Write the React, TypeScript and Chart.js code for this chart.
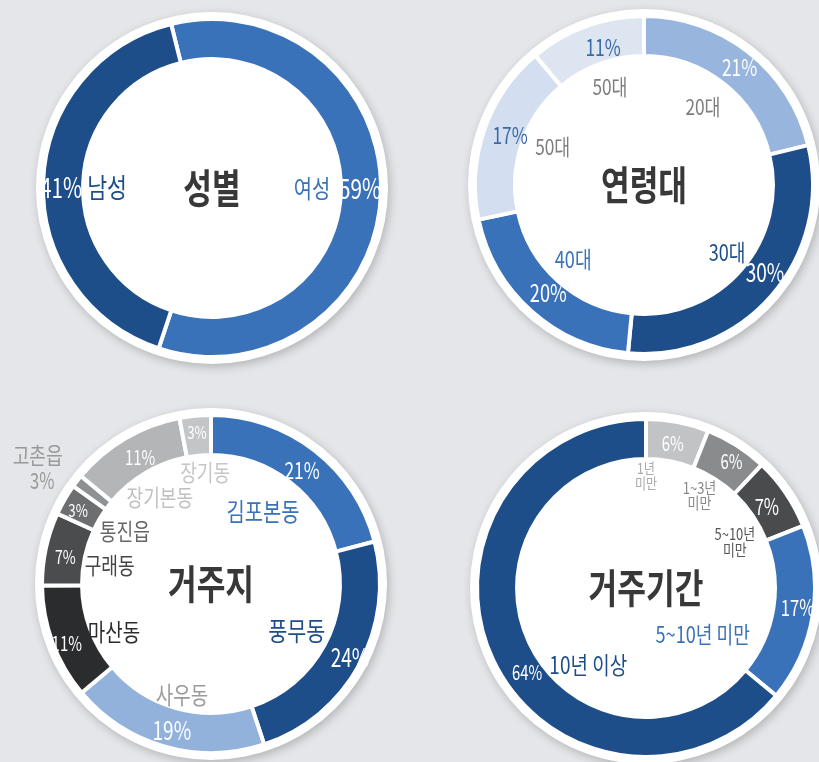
import React, { useEffect, useRef } from 'react';
import { Chart, registerables } from 'chart.js';

Chart.register(...registerables);

const FONT = '"Noto Sans CJK KR", "Noto Sans", sans-serif';

// ---------- 성별 ----------
const genderTitle = '성별';
const genderCategories = ['여성', '남성'];
const genderValues = [59, 41];
const genderPercentLabels = ['59%', '41%'];

// ---------- 연령대 ----------
const ageTitle = '연령대';
const ageCategories = ['20대', '30대', '40대', '50대', '50대'];
const ageValues = [21, 30, 20, 17, 11];
const agePercentLabels = ['21%', '30%', '20%', '17%', '11%'];

// ---------- 거주지 ----------
const residenceTitle = '거주지';
const residenceCategories = ['김포본동', '풍무동', '사우동', '마산동', '구래동', '통진읍', '고촌읍', '장기본동', '장기동'];
const residenceValues = [21, 24, 19, 11, 7, 3, 1.2, 11, 3];
const residencePercentLabels = ['21%', '24%', '19%', '11%', '7%', '3%', '3%', '11%', '3%'];

// ---------- 거주기간 ----------
const periodTitle = '거주기간';
const periodCategories = ['1년\n미만', '1~3년\n미만', '5~10년\n미만', '5~10년 미만', '10년 이상'];
const periodValues = [6, 6, 7, 17, 64];
const periodPercentLabels = ['6%', '6%', '7%', '17%', '64%'];

// ---------- styles (colors + label placement: [angle offset deg, radius, font size, color]) ----------
type LabelStyle = { p: [number, number, number, string]; c: [number, number, number, string] };

const genderStyle = {
  colors: ['#3a72b9', '#1d4e89'],
  rotation: -14,
  labels: [
    { p: [-2, 148, 25, '#ffffff'], c: [-2, 100, 23, '#3a72b9'] },
    { p: [-2, 151, 25, '#ffffff'], c: [-2, 105, 25, '#1d4e89'] },
  ] as LabelStyle[],
};

const ageStyle = {
  colors: ['#97b5dd', '#1d4e89', '#3a72b9', '#d3dff0', '#dde5f1'],
  rotation: 0,
  labels: [
    { p: [0.8, 152, 21, '#ffffff'], c: [-1.2, 98, 20, '#7d7d7d'] },
    { p: [-5.2, 149, 23, '#ffffff'], c: [-1.9, 107, 21, '#1d4e89'] },
    { p: [-0.2, 144, 22, '#ffffff'], c: [1.6, 103, 21, '#3a72b9'] },
    { p: [1.4, 143, 21, '#3b69a6'], c: [3.6, 99, 20, '#7d7d7d'] },
    { p: [3.5, 144, 21, '#3b69a6'], c: [0.9, 104, 20, '#7d7d7d'] },
  ] as LabelStyle[],
};

const residenceStyle = {
  colors: ['#3a72b9', '#1d4e89', '#92b2dc', '#2b2c2e', '#4b4c4e', '#6d6e70', '#8f9092', '#b4b5b7', '#c4c5c7'],
  rotation: 0,
  labels: [
    { p: [0.9, 146, 21, '#ffffff'], c: [-1.9, 89, 23, '#3a72b9'] },
    { p: [-0.9, 157, 23, '#ffffff'], c: [0.4, 98, 24, '#1d4e89'] },
    { p: [-0.8, 151, 23, '#ffffff'], c: [-1.2, 115, 22, '#9a9a9a'] },
    { p: [-2.1, 156, 18, '#ffffff'], c: [-5.8, 108, 22, '#2b2c2e'] },
    { p: [-1.6, 148, 17, '#ffffff'], c: [-1.6, 103, 21, '#444444'] },
    { p: [-1, 152, 16, '#ffffff'], c: [1.5, 101, 21, '#666666'] },
    { p: [-6, 198, 20, '#999999'], c: [-0.9, 216, 21, '#999999'] },
    { p: [1.3, 145, 18, '#ffffff'], c: [0.1, 101, 21, '#c0c0c0'] },
    { p: [0.1, 152, 16, '#ffffff'], c: [2.4, 112, 21, '#c6c6c6'] },
  ] as LabelStyle[],
};

const periodStyle = {
  colors: ['#c2c3c5', '#8a8b8d', '#4a4b4d', '#3a72b9', '#1d4e89'],
  rotation: 0,
  labels: [
    { p: [-0.3, 147, 18, '#ffffff'], c: [-10.8, 112, 14, '#aaaaaa'] },
    { p: [1.6, 153, 18, '#ffffff'], c: [-2.4, 107, 15, '#888888'] },
    { p: [0.1, 146, 20, '#ffffff'], c: [6.9, 100, 15, '#555555'] },
    { p: [-1.5, 153, 20, '#ffffff'], c: [30, 73, 21, '#3a72b9'] },
    { p: [-10.3, 146, 18, '#ffffff'], c: [-27.8, 96, 22, '#1d4e89'] },
  ] as LabelStyle[],
};

const OUTER_RADIUS = 169;
const CUTOUT = '76.3%';
const RING_PAD = 9;
const PCT_SCALE = 1.12;
const CAT_SCALE = 1.08;

function drawText(ctx: CanvasRenderingContext2D, text: string, x: number, y: number, size: number, weight: string, color: string, sx: number) {
  const lines = text.split('\n');
  ctx.save();
  ctx.translate(x, y);
  ctx.scale(sx, 1);
  ctx.font = `${weight} ${size}px ${FONT}`;
  ctx.fillStyle = color;
  ctx.textAlign = 'center';
  ctx.textBaseline = 'middle';
  const lh = size * 0.98;
  const startY = -((lines.length - 1) * lh) / 2;
  lines.forEach((ln, i) => ctx.fillText(ln, 0, startY + i * lh));
  ctx.restore();
}

function makeDecor(title: string, categories: string[], pctLabels: string[], style: { labels: LabelStyle[] }) {
  return {
    id: 'decor',
    beforeDatasetsDraw(chart: any) {
      const el = chart.getDatasetMeta(0).data[0];
      if (!el) return;
      const { x, y, outerRadius } = el.getProps(['x', 'y', 'outerRadius'], true);
      const ctx = chart.ctx as CanvasRenderingContext2D;
      ctx.save();
      ctx.shadowColor = 'rgba(0,0,0,0.22)';
      ctx.shadowBlur = 10;
      ctx.shadowOffsetX = 2;
      ctx.shadowOffsetY = 3;
      ctx.beginPath();
      ctx.arc(x, y, outerRadius - 2 + RING_PAD, 0, Math.PI * 2);
      ctx.fillStyle = '#ffffff';
      ctx.fill();
      ctx.restore();
    },
    afterDatasetsDraw(chart: any) {
      const ctx = chart.ctx as CanvasRenderingContext2D;
      const meta = chart.getDatasetMeta(0);
      let cx = 0, cy = 0;
      meta.data.forEach((el: any, i: number) => {
        const { x, y, startAngle, endAngle } = el.getProps(['x', 'y', 'startAngle', 'endAngle'], true);
        cx = x; cy = y;
        const mid = (startAngle + endAngle) / 2;
        const st = style.labels[i];
        if (!st) return;
        const pa = mid + (st.p[0] * Math.PI) / 180;
        drawText(ctx, pctLabels[i], x + st.p[1] * Math.cos(pa), y + st.p[1] * Math.sin(pa), st.p[2] * PCT_SCALE, 'normal', st.p[3], 0.74);
        const ca = mid + (st.c[0] * Math.PI) / 180;
        drawText(ctx, categories[i], x + st.c[1] * Math.cos(ca), y + st.c[1] * Math.sin(ca), st.c[2] * CAT_SCALE, 'normal', st.c[3], 0.8);
      });
      drawText(ctx, title, cx, cy, 40, 'bold', '#383838', 0.78);
    },
  };
}

type PanelProps = {
  left: number; top: number; width: number; height: number;
  cx: number; cy: number;
  title: string; categories: string[]; values: number[]; pctLabels: string[];
  style: { colors: string[]; rotation: number; labels: LabelStyle[] };
};

function DonutPanel(props: PanelProps) {
  const ref = useRef<HTMLCanvasElement | null>(null);
  useEffect(() => {
    if (!ref.current) return;
    const { width, height, cx, cy } = props;
    const lx = cx - props.left;
    const ly = cy - props.top;
    const padding = {
      left: lx * 2 > width ? lx * 2 - width : 0,
      right: lx * 2 < width ? width - lx * 2 : 0,
      top: ly * 2 > height ? ly * 2 - height : 0,
      bottom: ly * 2 < height ? height - ly * 2 : 0,
    };
    const chart = new Chart(ref.current, {
      type: 'doughnut',
      data: {
        labels: props.categories,
        datasets: [{
          data: props.values,
          backgroundColor: props.style.colors,
          borderColor: '#ffffff',
          borderWidth: 4,
          hoverOffset: 0,
        }],
      },
      options: {
        animation: false,
        responsive: false,
        devicePixelRatio: 1,
        rotation: props.style.rotation,
        radius: OUTER_RADIUS,
        cutout: CUTOUT,
        layout: { padding },
        events: [],
        plugins: {
          legend: { display: false },
          tooltip: { enabled: false },
          title: { display: false },
        },
      } as any,
      plugins: [makeDecor(props.title, props.categories, props.pctLabels, props.style)],
    });
    return () => chart.destroy();
  }, []);
  return (
    <canvas
      ref={ref}
      width={props.width}
      height={props.height}
      style={{ position: 'absolute', left: props.left, top: props.top, width: props.width, height: props.height, display: 'block' }}
    />
  );
}

export default function App() {
  return (
    <div style={{ position: 'fixed', left: 0, top: 0, width: 819, height: 762, background: '#e4e6e9', overflow: 'hidden' }}>
      <DonutPanel left={0} top={0} width={410} height={380} cx={212} cy={188}
        title={genderTitle} categories={genderCategories} values={genderValues} pctLabels={genderPercentLabels} style={genderStyle} />
      <DonutPanel left={410} top={0} width={409} height={380} cx={644} cy={185}
        title={ageTitle} categories={ageCategories} values={ageValues} pctLabels={agePercentLabels} style={ageStyle} />
      <DonutPanel left={0} top={380} width={410} height={382} cx={211} cy={584}
        title={residenceTitle} categories={residenceCategories} values={residenceValues} pctLabels={residencePercentLabels} style={residenceStyle} />
      <DonutPanel left={410} top={380} width={409} height={382} cx={646} cy={588}
        title={periodTitle} categories={periodCategories} values={periodValues} pctLabels={periodPercentLabels} style={periodStyle} />
    </div>
  );
}
